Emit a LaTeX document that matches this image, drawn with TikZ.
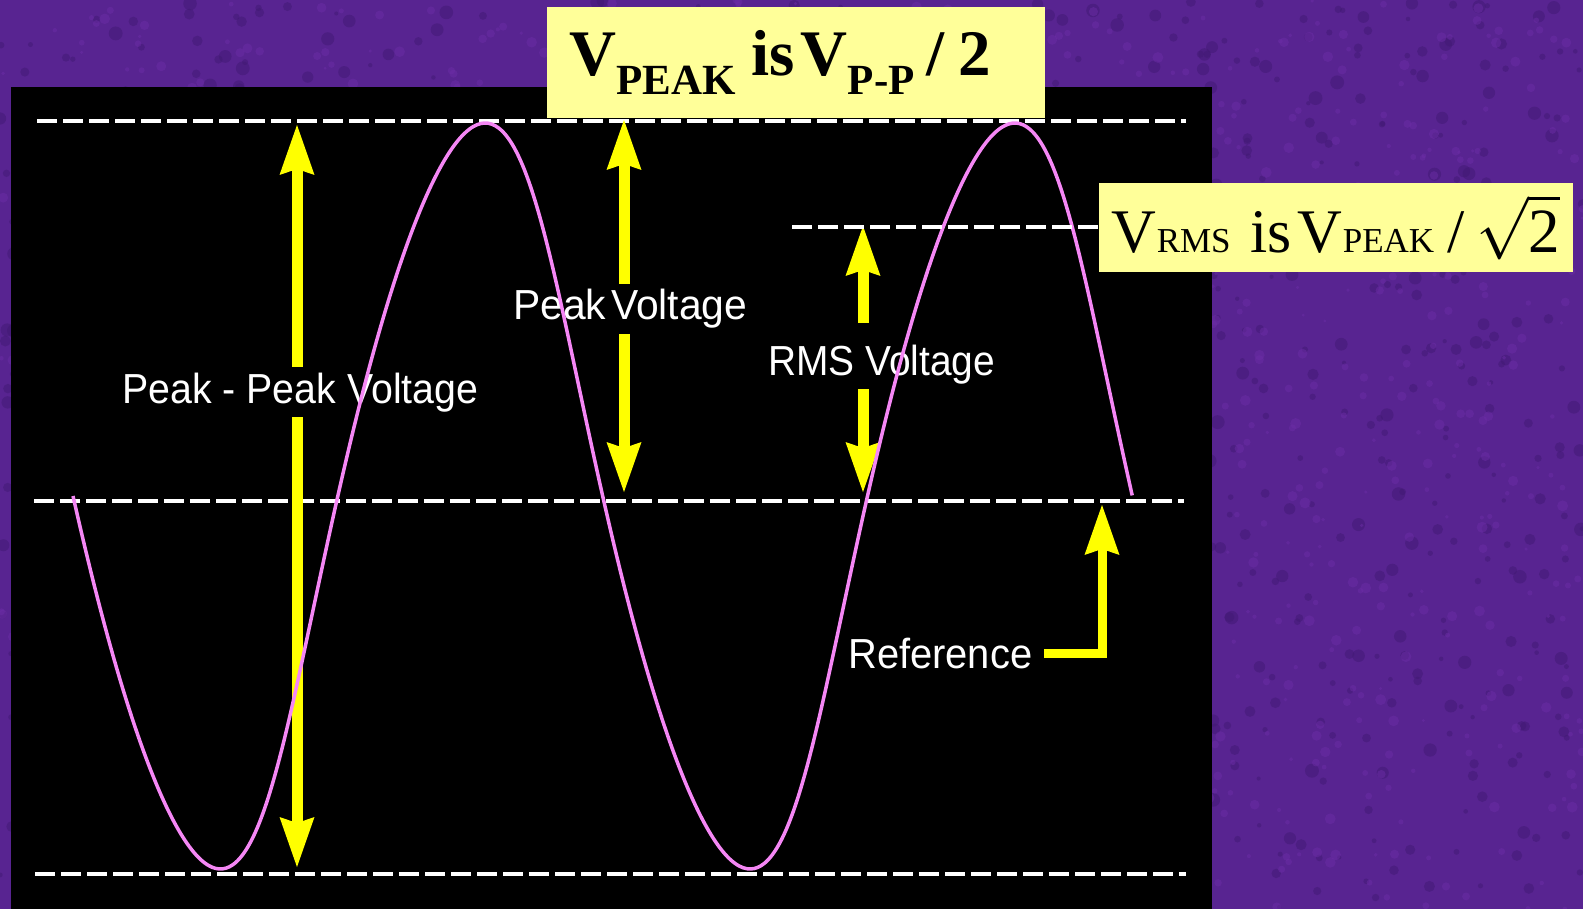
\documentclass[tikz,border=0pt]{standalone}
\usepackage{fontspec}
\usepackage{amsmath}
\setmainfont{Liberation Serif}
\newfontfamily\labfont{Liberation Sans}
\usetikzlibrary{arrows.meta}
\definecolor{bgpurple}{RGB}{88,36,145}
\definecolor{bgdark}{RGB}{66,26,116}
\definecolor{bglight}{RGB}{110,46,168}
\definecolor{boxyellow}{RGB}{255,255,153}
\definecolor{arryellow}{RGB}{255,255,0}
\definecolor{wavepink}{RGB}{245,135,245}
\begin{document}
\begin{tikzpicture}[x=1pt,y=-1pt,
  refline/.style={draw=white, line width=4pt, dash pattern=on 20pt off 6pt},
  yarrow/.style={draw=arryellow, line width=11pt, -{Stealth[length=50pt,width=35pt,inset=6pt,line width=0pt]}},
  lbl/.style={text=white, font=\labfont\fontsize{42}{44}\selectfont, inner xsep=0pt, inner ysep=5.5pt, anchor=base west},
  ybox/.style={fill=boxyellow, draw=none, inner ysep=0pt, anchor=north west}
]
\useasboundingbox (0,0) rectangle (1583,909);
\fill[bgpurple] (0,0) rectangle (1583,909);
% mottled texture of the backdrop
\pgfmathsetseed{7}
\foreach \i in {1,...,1400} {
  \pgfmathsetmacro{\px}{rnd*1583}
  \pgfmathsetmacro{\py}{rnd*909}
  \pgfmathsetmacro{\pr}{2+rnd*5}
  \fill[bgdark, opacity=0.5] (\px,\py) circle[radius=\pr];
}
\foreach \i in {1,...,1400} {
  \pgfmathsetmacro{\px}{rnd*1583}
  \pgfmathsetmacro{\py}{rnd*909}
  \pgfmathsetmacro{\pr}{1.5+rnd*4}
  \fill[bglight, opacity=0.45] (\px,\py) circle[radius=\pr];
}
\fill[black] (11,87) rectangle (1212,909);

% reference levels
\coordinate (t0) at (37,121);  \coordinate (t1) at (1186,121);
\coordinate (m0) at (34,501);  \coordinate (m1) at (1184,501);
\coordinate (b0) at (35,874);  \coordinate (b1) at (1186,874);
\coordinate (r0) at (792,227);
\draw[refline] (t0) -- (t1);
\draw[refline] (m0) -- (m1);
\draw[refline] (b0) -- (b1);

% labels
\node[lbl] (ppk) at (122,403) {\resizebox{356pt}{\height}{Peak - Peak Voltage}};
\node[lbl] (pkv) at (513,320) {\resizebox{234pt}{\height}{Peak\hspace{5pt}Voltage}};
\node[lbl] (rmsv) at (768,375) {\resizebox{227pt}{\height}{RMS Voltage}};
\node[lbl, inner ysep=0pt] (refl) at (848,668) {\resizebox{184pt}{\height}{Reference}};

% arrows
\coordinate (ppT) at (297,125); \coordinate (ppB) at (297,867);
\draw[yarrow] (ppT |- ppk.north) -- (ppT);
\draw[yarrow] (ppB |- ppk.south) -- (ppB);
\coordinate (pkT) at (624,120); \coordinate (pkB) at (624,492);
\draw[yarrow] (pkT |- pkv.north) -- (pkT);
\draw[yarrow] (pkB |- pkv.south) -- (pkB);
\coordinate (rmT) at (863,226); \coordinate (rmB) at (863,492);
\coordinate (rmG) at ([yshift=16pt]rmsv.north);
\draw[yarrow] (rmT |- rmG) -- (rmT);
\draw[yarrow] (rmB |- rmsv.south) -- (rmB);
\coordinate (refT) at (1102,505);
\draw[yarrow, line width=9pt, line join=miter] ([xshift=12pt]refl.east) -| (refT);

% waveform
\draw[wavepink, line width=3.5pt, line join=round]
  plot[domain=0:12.566, samples=300, smooth] ({80.5+84.3*\x-7.5*cos(2*\x r)}, {496+373*sin(\x r)});

% formula boxes
\node[ybox, minimum width=498pt, minimum height=111pt, inner xsep=22pt, text width=454pt, align=left] (f1) at (547,7)
  {\fontsize{65}{70}\selectfont\bfseries V\raisebox{-19pt}{\fontsize{43}{48}\selectfont PEAK}\hspace{16pt}is\hspace{6pt}V\raisebox{-19pt}{\fontsize{43}{48}\selectfont P-P}\hspace{12pt}/\hspace{14pt}2};
\node[ybox, minimum width=474pt, minimum height=89pt, inner xsep=0pt] (f2) at (1099,183)
  {\fontsize{62}{66}\selectfont V{\fontsize{35}{40}\selectfont RMS}\hspace{20pt}is\hspace{6pt}V{\fontsize{35}{40}\selectfont PEAK}\hspace{13pt}/\hspace{12pt}\scalebox{6.3}{\fontsize{10}{12}\selectfont$\sqrt{\mbox{2}}$}};
\draw[refline] (r0) -- (f2.west |- r0);
\end{tikzpicture}
\end{document}
